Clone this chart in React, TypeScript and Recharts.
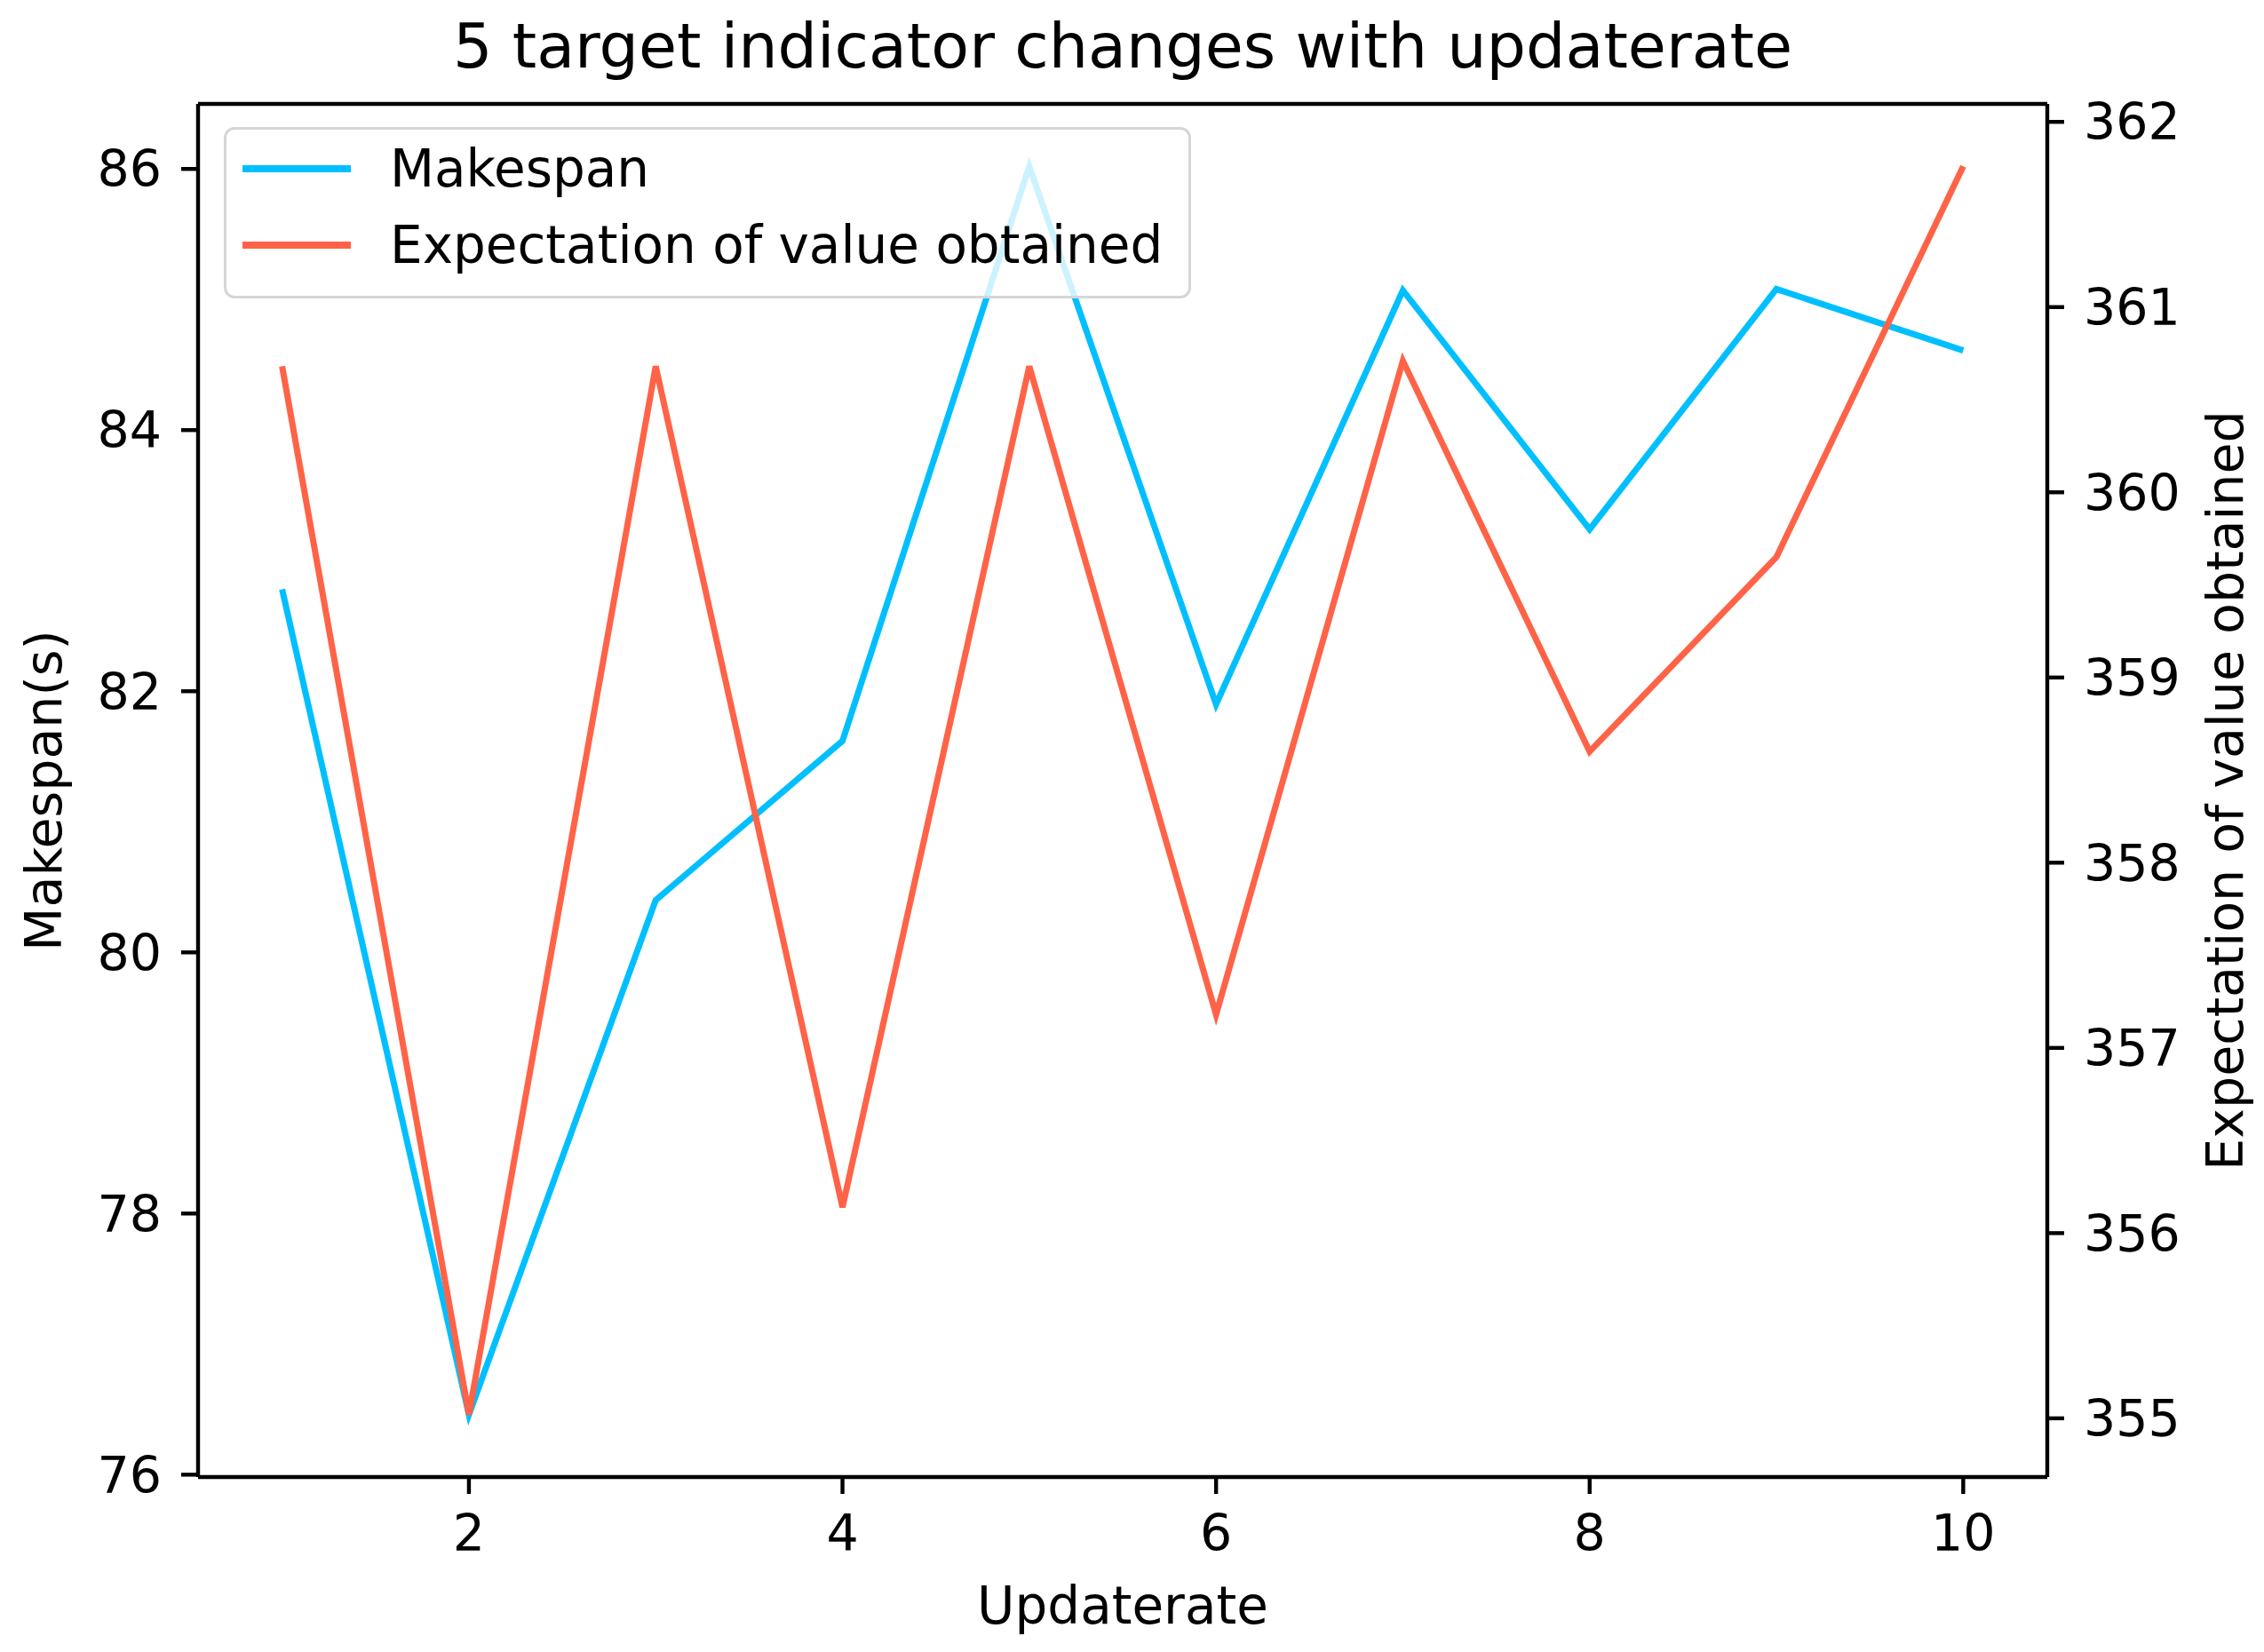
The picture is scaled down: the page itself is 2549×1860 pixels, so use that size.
import React from "react"
import {
  Legend,
  Line,
  LineChart,
  ReferenceLine,
  XAxis,
  YAxis,
} from "recharts"

const updaterate = [1, 2, 3, 4, 5, 6, 7, 8, 9, 10]
const makespan = [82.78, 76.46, 80.4, 81.62, 86.02, 81.9, 85.07, 83.24, 85.08, 84.61]
const expectation = [360.68, 355.02, 360.68, 356.14, 360.68, 357.18, 360.71, 358.6, 359.65, 361.76]

const xTicks = [2, 4, 6, 8, 10]
const leftTicks = [76, 78, 80, 82, 84, 86]
const rightTicks = [355, 356, 357, 358, 359, 360, 361, 362]

const BLUE = "#00BFFF"
const RED = "#FF6347"
const FONT = "'DejaVu Sans', sans-serif"

// matplotlib-style autoscale: 5% margin around the data
function padded(values: number[]): [number, number] {
  const lo = Math.min(...values)
  const hi = Math.max(...values)
  const m = (hi - lo) * 0.05
  return [lo - m, hi + m]
}

const leftDomain = padded(makespan)
const rightDomain = padded(expectation)

const chartData = updaterate.map((u, i) => ({
  updaterate: u,
  makespan: makespan[i],
  expectation: expectation[i],
}))

const tickStyle = { fontSize: 57, fill: "#000", fontFamily: FONT }
const spine = { stroke: "#000", strokeWidth: 4.4 }

function LegendBox() {
  const items = [
    { name: "Makespan", color: BLUE },
    { name: "Expectation of value obtained", color: RED },
  ]
  return (
    <div
      style={{
        width: 1089,
        height: 193,
        boxSizing: "border-box",
        border: "3px solid #d6d6d6",
        borderRadius: 12,
        background: "rgba(255,255,255,0.8)",
        fontFamily: FONT,
        fontSize: 58,
        color: "#000",
        position: "relative",
      }}
    >
      {items.map((it, i) => (
        <div
          key={it.name}
          style={{
            position: "absolute",
            left: 18,
            top: 44 + i * 86 - 33,
            height: 66,
            display: "flex",
            alignItems: "center",
            whiteSpace: "nowrap",
          }}
        >
          <span style={{ display: "inline-block", width: 122, height: 8, background: it.color }} />
          <span style={{ marginLeft: 44, lineHeight: 1 }}>{it.name}</span>
        </div>
      ))}
    </div>
  )
}

export default function App() {
  return (
    <div
      style={{
        position: "absolute",
        left: 0,
        top: 0,
        width: 2549,
        height: 1860,
        background: "#fff",
        fontFamily: FONT,
      }}
    >
      <div
        style={{
          position: "absolute",
          left: 223,
          width: 2082,
          top: 17,
          textAlign: "center",
          fontSize: 70,
          lineHeight: 1,
          whiteSpace: "nowrap",
        }}
      >
        5 target indicator changes with updaterate
      </div>

      <LineChart
        width={2549}
        height={1860}
        data={chartData}
        margin={{ top: 117, right: 0, bottom: 0, left: 0 }}
        style={{ position: "absolute", left: 0, top: 0 }}
      >
        <XAxis
          dataKey="updaterate"
          type="number"
          domain={[0.55, 10.45]}
          ticks={xTicks}
          allowDataOverflow
          height={197}
          tick={tickStyle}
          tickSize={19}
          tickMargin={24}
          tickLine={spine}
          axisLine={spine}
        />
        <YAxis
          yAxisId="left"
          type="number"
          domain={leftDomain}
          ticks={leftTicks}
          allowDataOverflow
          width={223}
          tick={tickStyle}
          tickSize={19}
          tickMargin={22}
          tickLine={spine}
          axisLine={spine}
        />
        <YAxis
          yAxisId="right"
          orientation="right"
          type="number"
          domain={rightDomain}
          ticks={rightTicks}
          allowDataOverflow
          width={244}
          tick={tickStyle}
          tickSize={19}
          tickMargin={22}
          tickLine={spine}
          axisLine={spine}
        />
        <ReferenceLine yAxisId="left" y={leftDomain[1]} stroke="#000" strokeWidth={4.4} />
        <Line
          yAxisId="left"
          dataKey="makespan"
          name="Makespan"
          stroke={BLUE}
          strokeWidth={7}
          dot={false}
          isAnimationActive={false}
        />
        <Line
          yAxisId="right"
          dataKey="expectation"
          name="Expectation of value obtained"
          stroke={RED}
          strokeWidth={7}
          dot={false}
          isAnimationActive={false}
        />
        <Legend
          layout="vertical"
          align="center"
          verticalAlign="middle"
          content={() => <LegendBox />}
          wrapperStyle={{ left: 252, top: 143, width: 1089, height: 193 }}
        />
      </LineChart>

      <div
        style={{
          position: "absolute",
          left: 1264,
          top: 1808,
          transform: "translate(-50%, -50%)",
          fontSize: 58,
          lineHeight: 1,
          whiteSpace: "nowrap",
        }}
      >
        Updaterate
      </div>
      <div
        style={{
          position: "absolute",
          left: 49,
          top: 890,
          transform: "translate(-50%, -50%) rotate(-90deg)",
          fontSize: 57,
          lineHeight: 1,
          whiteSpace: "nowrap",
        }}
      >
        Makespan(s)
      </div>
      <div
        style={{
          position: "absolute",
          left: 2505,
          top: 890,
          transform: "translate(-50%, -50%) rotate(-90deg)",
          fontSize: 57,
          lineHeight: 1,
          whiteSpace: "nowrap",
        }}
      >
        Expectation of value obtained
      </div>
    </div>
  )
}
